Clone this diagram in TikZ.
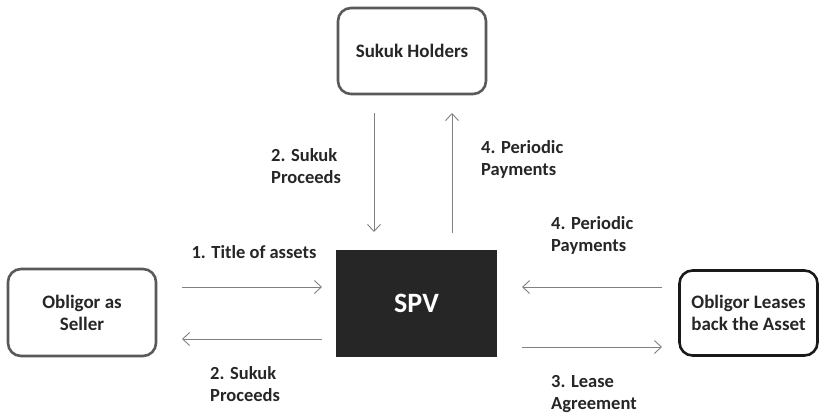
\documentclass[tikz,border=0pt]{standalone}
\usepackage{fontspec}
\setmainfont{Carlito}
\usetikzlibrary{arrows.meta}
\definecolor{boxgray}{HTML}{595959}
\definecolor{arrgray}{HTML}{808080}
\definecolor{spvfill}{HTML}{262626}
\definecolor{txt}{HTML}{262626}
\tikzset{
  partybox/.style={draw=boxgray, line width=2.6pt, rounded corners=13pt, fill=white,
    align=center, font=\bfseries\fontsize{19}{22}\selectfont, text=txt, inner sep=0pt},
  flow/.style={draw=arrgray, line width=1pt, -{Straight Barb[length=7pt,width=13pt,line width=0.9pt]}},
  lbl/.style={font=\bfseries\fontsize{18.5}{22}\selectfont, text=txt, align=left, anchor=north west, inner sep=0pt}
}
\begin{document}
\begin{tikzpicture}[x=1pt,y=-1pt]
\useasboundingbox (0,0) rectangle (820,413);
\node[partybox, minimum width=148pt, minimum height=86pt] (holders) at (412,51) {Sukuk Holders};
\node[partybox, minimum width=148pt, minimum height=87pt] (seller) at (82,312.5) {Obligor as\\Seller};
\node[partybox, draw=black!90, minimum width=138pt, minimum height=85pt] (lessee) at (748.5,313) {Obligor Leases\\back the Asset};
\node[fill=spvfill, minimum width=161pt, minimum height=107pt, inner sep=0pt,
  text=white, font=\bfseries\fontsize{28}{30}\selectfont] (spv) at (416.5,303.5) {SPV};
% coordinates for arrow ends
\coordinate (d1) at (374,113); \coordinate (d2) at (374,232);
\coordinate (u1) at (452,233); \coordinate (u2) at (452,113);
\coordinate (l1) at (182,287); \coordinate (l2) at (322,287);
\coordinate (l3) at (322,339); \coordinate (l4) at (182,339);
\coordinate (r1) at (662,287); \coordinate (r2) at (522,287);
\coordinate (r3) at (522,347); \coordinate (r4) at (662,347);
\draw[flow] (d1) -- (d2);
\draw[flow] (u1) -- (u2);
\draw[flow] (l1) -- (l2);
\draw[flow] (l3) -- (l4);
\draw[flow] (r1) -- (r2);
\draw[flow] (r3) -- (r4);
\node[lbl, anchor=north] (t1) at (254,245) {1. Title of assets};
\node[lbl] (t2a) at (271,148) {2. Sukuk\\Proceeds};
\node[lbl] (t4a) at (481,140) {4. Periodic\\Payments};
\node[lbl] (t4b) at (551,216) {4. Periodic\\Payments};
\node[lbl] (t2b) at (210,366) {2. Sukuk\\Proceeds};
\node[lbl] (t3) at (551,375) {3. Lease\\Agreement};
\end{tikzpicture}
\end{document}
